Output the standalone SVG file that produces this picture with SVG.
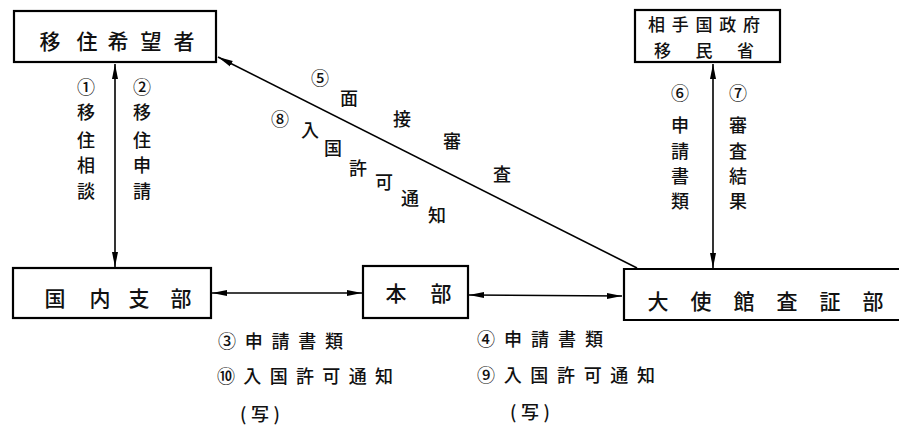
<svg xmlns="http://www.w3.org/2000/svg" width="899" height="429" viewBox="0 0 899 429">
<style>
.box{fill:#fff;stroke:#000;stroke-width:2.2}
.t{font-family:"Noto Sans CJK JP","Noto Sans CJK SC",sans-serif;fill:#111;text-anchor:middle;dominant-baseline:central;font-weight:500}
.bt{font-size:21px}
.lb{font-size:18px}
.ab{font-size:17px}
.ln{stroke:#000;stroke-width:1.6;fill:none}
</style>
<defs>
<marker id="ah" markerUnits="userSpaceOnUse" markerWidth="16" markerHeight="8" refX="15" refY="4" orient="auto-start-reverse">
<path d="M0,1 L15,4 L0,7 Z" fill="#000"/>
</marker>
</defs>
<rect width="899" height="429" fill="#fff"/>
<g id="connectors">
<line class="ln" x1="115" y1="64" x2="115" y2="267" marker-start="url(#ah)" marker-end="url(#ah)"/>
<line class="ln" x1="713" y1="64" x2="713" y2="268" marker-start="url(#ah)" marker-end="url(#ah)"/>
<line class="ln" x1="212" y1="293" x2="362" y2="293" marker-start="url(#ah)" marker-end="url(#ah)"/>
<line class="ln" x1="469" y1="295" x2="622" y2="296" marker-start="url(#ah)" marker-end="url(#ah)"/>
<line class="ln" x1="637" y1="268" x2="218" y2="57" marker-end="url(#ah)"/>
</g>
<g id="n-kibousha">
<rect class="box" x="14" y="11" width="202" height="51"/>
<text class="t bt" x="50" y="40">移</text><text class="t bt" x="87" y="40">住</text><text class="t bt" x="118" y="40">希</text><text class="t bt" x="151" y="40">望</text><text class="t bt" x="184" y="40">者</text>
</g>
<g id="n-aite">
<rect class="box" x="635" y="10" width="145" height="52"/>
<text class="t ab" x="704" y="23" textLength="112" lengthAdjust="spacing">相手国政府</text>
<text class="t ab" x="704" y="49" textLength="100" lengthAdjust="spacing">移民省</text>
</g>
<g id="n-kokunai">
<rect class="box" x="13" y="268" width="198" height="50"/>
<text class="t bt" x="55" y="297">国</text><text class="t bt" x="100" y="297">内</text><text class="t bt" x="139" y="297">支</text><text class="t bt" x="181" y="297">部</text>
</g>
<g id="n-honbu">
<rect class="box" x="363" y="266" width="105" height="52"/>
<text class="t bt" x="396" y="292">本</text><text class="t bt" x="441" y="292">部</text>
</g>
<g id="n-taishikan">
<path class="box" d="M905,269 H624 V320 H905"/>
<text class="t bt" x="658" y="300">大</text><text class="t bt" x="701" y="300">使</text><text class="t bt" x="744" y="300">館</text><text class="t bt" x="787" y="300">査</text><text class="t bt" x="830" y="300">証</text><text class="t bt" x="873" y="300">部</text>
</g>
<g id="labels">
<text class="t lb" x="86" y="86">①</text><text class="t lb" x="86" y="111">移</text><text class="t lb" x="86" y="139">住</text><text class="t lb" x="86" y="164">相</text><text class="t lb" x="86" y="190">談</text>
<text class="t lb" x="142" y="86">②</text><text class="t lb" x="142" y="111">移</text><text class="t lb" x="142" y="139">住</text><text class="t lb" x="142" y="164">申</text><text class="t lb" x="142" y="190">請</text>
<text class="t lb" x="680" y="92">⑥</text><text class="t lb" x="680" y="124">申</text><text class="t lb" x="680" y="150">請</text><text class="t lb" x="680" y="175">書</text><text class="t lb" x="680" y="200">類</text>
<text class="t lb" x="738" y="92">⑦</text><text class="t lb" x="738" y="124">審</text><text class="t lb" x="738" y="150">査</text><text class="t lb" x="738" y="175">結</text><text class="t lb" x="738" y="200">果</text>
<text class="t lb" x="320" y="77">⑤</text><text class="t lb" x="349" y="97">面</text><text class="t lb" x="402" y="118">接</text><text class="t lb" x="452" y="140">審</text><text class="t lb" x="502" y="173">査</text>
<text class="t lb" x="280" y="118">⑧</text><text class="t lb" x="310" y="129">入</text><text class="t lb" x="333" y="147">国</text><text class="t lb" x="358" y="167">許</text><text class="t lb" x="384" y="181">可</text><text class="t lb" x="410" y="197">通</text><text class="t lb" x="437" y="214">知</text>
<text class="t lb" x="218" y="340" style="text-anchor:start" textLength="125" lengthAdjust="spacing">③申請書類</text>
<text class="t lb" x="217" y="375" style="text-anchor:start" textLength="176" lengthAdjust="spacing">⑩入国許可通知</text>
<text class="t lb" x="260" y="413" textLength="40" lengthAdjust="spacing">(写)</text>
<text class="t lb" x="477" y="338" style="text-anchor:start" textLength="126" lengthAdjust="spacing">④申請書類</text>
<text class="t lb" x="477" y="374" style="text-anchor:start" textLength="178" lengthAdjust="spacing">⑨入国許可通知</text>
<text class="t lb" x="530" y="411" textLength="40" lengthAdjust="spacing">(写)</text>
</g>
</svg>
